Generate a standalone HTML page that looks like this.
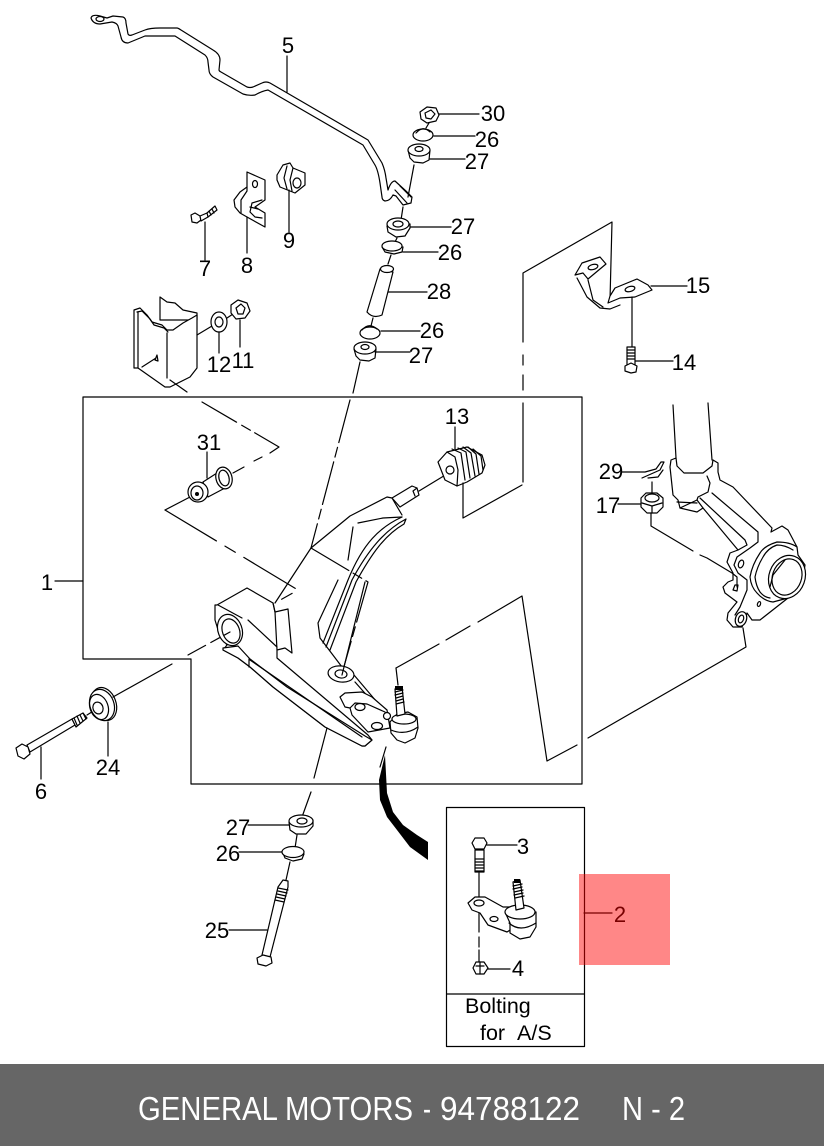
<!DOCTYPE html>
<html><head><meta charset="utf-8">
<style>
html,body{margin:0;padding:0;background:#fff;width:824px;height:1146px;overflow:hidden}
svg{display:block}
.l{fill:none;stroke:#000;stroke-width:1.2;stroke-linejoin:round;stroke-linecap:round}
.f{fill:#fff;stroke:#000;stroke-width:1.2;stroke-linejoin:round}
text{font-family:"Liberation Sans",sans-serif;font-size:22px;fill:#000;text-anchor:middle}
</style></head><body>
<svg width="824" height="1146" viewBox="0 0 824 1146" xmlns="http://www.w3.org/2000/svg">
<rect width="824" height="1146" fill="#fff"/>

<!-- frames -->
<path class="l" d="M83 397H582V784H191V659H83Z"/>
<path class="l" d="M55 581H83"/>
<rect x="446.500" y="807.500" width="138" height="239" class="l"/>
<path class="l" d="M447 994H584"/>

<!-- sway bar -->
<path class="f" d="M113 16L123 17Q126 18 126 23L128 34Q129 36 132 35L145 30Q150 28 160 28L177 28Q178 28 181 30L213 50Q220 54 220 60L219 70Q219 71 221 72L247 87Q250 88 253 87L262 83Q266 81 270 83L368 140L382 163Q385 170 386 178L388 190Q391 181 395 181L407 192L412 197L411 203L403 205L396 196L393 195Q390 201 385 201Q382 200 382 197L380 183Q378 170 375 165L363 145L268 90Q262 91 255 95Q249 96 243 94L213 77Q209 74 209 70L208 62Q208 58 205 55L175 36L145 36L128 43Q122 43 121 37L118 26Q117 23 112 22L100 24Q93 24 91 18Q92 14 100 16L107 18Z"/>
<ellipse class="l" cx="100" cy="19" rx="4" ry="2.500"/>
<path class="l" d="M287 56V92"/>
<path class="l" d="M395 190L407 203M400 186L411 197"/>

<!-- stabiliser link stack -->
<path class="l" d="M414 165L408 197M403 207L401 220M397 238L395 242M391 255L388 264M373 318L371 326M360 362L353 393"/>
<path class="f" d="M420 112L427 107L436 108L439 115L436 121L427 123L421 119Z"/>
<path class="l" d="M425 113L431 110L435 114L431 119L426 118ZM439 114H479"/>
<path class="l" d="M429 123L426 128"/>
<ellipse class="f" cx="423" cy="135" rx="10" ry="6"/>
<path class="l" d="M416 133Q423 125 430 132M434 136H475"/>
<path class="f" d="M408 150L410 158L414 162L423 163L429 160L430 150Z"/>
<ellipse class="f" cx="419" cy="150" rx="11" ry="6"/>
<ellipse class="l" cx="419" cy="149" rx="4" ry="2.500"/>
<path class="l" d="M430 159H465"/>
<path class="f" d="M387 226L388 232L396 237L405 236L410 228L410 224Z"/>
<ellipse class="f" cx="398" cy="224" rx="11" ry="6"/>
<ellipse class="l" cx="398" cy="224" rx="5" ry="3" stroke-width="2"/>
<path class="l" d="M410 227H451"/>
<path class="f" d="M382 247L385 252L394 254L402 252L403 247Z"/>
<ellipse class="f" cx="392" cy="246" rx="10" ry="5"/>
<path class="l" d="M403 252H438"/>
<path class="f" d="M380 269L367 312Q373 319 382 315L393 272Z"/>
<ellipse class="f" cx="387" cy="269" rx="6.500" ry="3.500"/>
<path class="l" d="M388 292H427"/>
<ellipse class="f" cx="370" cy="333" rx="10" ry="6"/>
<path class="l" d="M362 330Q369 322 377 329M381 331H420"/>
<path class="f" d="M354 349L356 356L360 360L369 361L375 358L376 349Z"/>
<ellipse class="f" cx="365" cy="348" rx="11" ry="6"/>
<ellipse class="l" cx="365" cy="347" rx="4" ry="2.500"/>
<path class="l" d="M375 352H410"/>

<!-- 7 8 9 -->
<path class="f" d="M191 215L195 213L200 216L201 220L197 223L192 222Z"/>
<path class="f" d="M200 216L207 213L208 217L201 221Z"/>
<path class="l" d="M207 213L215 206L217 210L208 217M209 211L211 215M212 209L214 213"/>
<path class="l" d="M205 222V260"/>
<path class="f" d="M247 172L265 180V200L255 207L265 213V227L247 217L240 213L235 207L234 200L240 192L247 187Z"/>
<ellipse class="l" cx="255" cy="184" rx="2.500" ry="3.500"/>
<path class="l" d="M247 187V191L241 200L241 213M262 200L252 203L250 212L255 217L262 218M250 207L258 209M247 217V253"/>
<path class="f" d="M277 175L283 165L290 163L293 168L305 173V185L295 193L280 187L277 180Z"/>
<ellipse class="l" cx="297" cy="183" rx="4" ry="5"/>
<path class="l" d="M293 168L290 180L292 191M287 166L284 178L287 189M289 190V232"/>

<!-- big bracket -->
<path class="f" d="M160 297L167 302L175 303L183 310L197 313V320H160Z"/>
<path class="f" d="M134 310L140 308L147 315L152 322L162 325L167 330L173 330L183 323L192 318L197 315V368L190 377L170 387L165 387L138 368H134Z"/>
<path class="l" d="M138 312V368M137 312L142 311L150 319L154 325L164 328L168 332M167 333V378M157 355L158 361L155 360ZM142 367L156 358M197 335L217 323M170 380L187 392"/>
<ellipse class="f" cx="219" cy="322" rx="8" ry="10"/>
<ellipse class="l" cx="219" cy="322" rx="4" ry="5"/>
<path class="l" d="M227 318L233 314"/>
<path class="f" d="M231 305L238 300L247 303L250 311L245 318L236 319L231 313Z"/>
<path class="l" d="M236 308L241 304L245 308L243 314L238 314ZM219 332V353M240 320V347"/>

<!-- upper-left explode lines -->
<path class="l" d="M202 402L279 447L270 453M262 457L254 461M244 467L233 473" stroke-dasharray="40 6 10 5"/>
<path class="l" d="M165 510L298 590L275 603" stroke-dasharray="60 10 12 10"/>
<path class="l" d="M190 497L165 510"/>

<!-- 31 -->
<path class="f" d="M203 482L217 473L230 482L225 488L208 497Z"/>
<ellipse class="f" cx="224" cy="478" rx="8" ry="11" transform="rotate(-15 224 478)"/>
<ellipse class="l" cx="224" cy="478" rx="5" ry="8" transform="rotate(-15 224 478)"/>
<ellipse class="f" cx="198" cy="492" rx="10" ry="10"/>
<ellipse class="l" cx="197" cy="493" rx="6" ry="7"/>
<circle cx="197" cy="494" r="2" fill="#000"/>
<path class="l" d="M207 452V478"/>

<!-- control arm -->
<path class="l" d="M350 400L311 548M311 548L368 582L343 670" stroke-dasharray="44 5 10 5"/>
<path class="f" d="M215 605L217 605L247 588L273 603L275 612L288 609L292 653L285 648L277 650L277 658L368 735L372 740L365 746L362 746L325 727L273 687L250 667L238 658L223 650L227 645L219 633L215 620Z"/>
<path class="l" d="M218 605L242 618M248 620L277 647M273 603L275 612L277 650"/>
<path class="f" d="M223 648L238 646L250 659L287 687L365 736L372 740L365 746L362 746L325 727L273 687L250 667L238 658L223 650Z"/>
<path class="l" d="M250 660L362 737M249 659V667"/>
<ellipse class="f" cx="230" cy="630" rx="12" ry="16" transform="rotate(-20 230 630)"/>
<ellipse class="l" cx="231" cy="631" rx="8.500" ry="12.500" transform="rotate(-20 231 631)"/>
<path class="l" d="M188 655L230 632" stroke-dasharray="20 6 10 5"/>

<path class="l" d="M311 548L350 516L387 497L392 498L402 515M338 580L318 623L320 638L342 667M353 527L348 560M358 523L383 518L402 517"/>
<path class="l" d="M311 548L275 603"/>
<path class="l" d="M402 517C380 527 363 543 348 580L323 643M406 519C385 530 368 550 352 580L326 647M404 524C385 535 372 553 356 582L330 650M406 519L404 524M354 675L382 708M355 682L378 708"/>
<path class="f" d="M392 498L412 486L417 488L419 495L400 507Z"/>
<path class="l" d="M417 488L413 491L415 496"/>
<path class="l" d="M419 491L447 474"/>

<ellipse class="f" cx="341" cy="674" rx="13" ry="8" transform="rotate(8 341 674)"/>
<ellipse class="l" cx="341" cy="674" rx="6" ry="4" transform="rotate(8 341 674)"/>
<path class="l" d="M365 582L342 675"/>

<path class="f" d="M340 697L345 693L362 692L372 697L387 710L390 728L368 732L352 715L350 708L345 707Z"/>
<path class="l" d="M350 708L355 703L367 704L385 712"/>
<ellipse class="f" cx="360" cy="707" rx="5" ry="3.500"/>
<ellipse class="f" cx="377" cy="726" rx="5.500" ry="3.500"/>
<circle class="f" cx="387" cy="716" r="3.500"/>
<path class="f" d="M390 722L391 733L397 740L405 743L415 738L418 728L417 717L408 712L397 714Z"/>
<path class="l" d="M391 730Q405 736 418 727"/>
<ellipse class="f" cx="404" cy="719" rx="12" ry="5"/>
<path class="f" d="M395 689L402 687L405 714L397 716Z"/>
<path class="l" d="M395 692L403 690M395 695L403 693M396 698L403 696M396 701L403 699M396 704L404 702"/>
<rect x="395" y="686" width="8" height="4" fill="#000"/>

<!-- 13 -->
<path class="f" d="M438 462L447 452L467 447L482 455L485 465L482 473L467 482L457 486L445 480Z"/>
<path class="l" d="M447 452L455 457L458 470L457 486M452 449L461 453L465 480M458 448L466 452L470 478M463 447L471 453L475 476M468 447L476 454L479 474M473 449L481 456L483 470"/>
<circle class="f" cx="450" cy="470" r="4"/>
<path class="l" d="M455 427V449M463 483V518L522 485"/>
<path class="l" d="M523 482V403M523 390V375M523 365V355M523 342V273L612 222L610 300"/>

<!-- 15 14 -->
<path class="l" d="M577 278L587 297L600 308L610 309L620 305M588 280L593 300L603 307"/>
<path class="f" d="M575 275L582 263L600 257L606 264L588 279L583 273Z"/>
<ellipse class="l" cx="593" cy="267" rx="5" ry="2.500" transform="rotate(-15 593 267)"/>
<path class="f" d="M615 288L637 279L648 285L652 290L635 297L620 298L608 303L610 296Z"/>
<ellipse class="l" cx="630" cy="289" rx="5" ry="2.500" transform="rotate(-15 630 289)"/>
<path class="l" d="M651 286H687M632 297V347M635 361H673"/>
<path class="f" d="M627 347H635V366H627Z"/>
<path class="l" d="M627 350H635M627 353H635M627 356H635M627 359H635"/>
<path class="f" d="M625 366L631 363L637 366L636 372L631 373L625 371Z"/>

<!-- knuckle -->
<path class="l" d="M673 405L676 458M708 403L712 460"/>
<path class="f" d="M670 467L671 460L676 458L677 466L684 473L703 473L712 466L713 460L718 463L718 472L720 480L733 487L772 528L771 532L782 526L788 530L797 547L798 555L805 565L802 583L788 598L760 620L752 620L747 613L745 620L742 627L733 627L727 620L728 613L737 602L725 593L723 587L728 582L733 580L733 573L727 562L730 553L738 550L703 508L697 500L680 508L678 500L673 495Z"/>
<path class="l" d="M697 512L680 508M677 502L697 503M707 476L710 483L708 492L698 497L697 500M700 498L745 540L747 545L738 550M712 493L758 532L758 542L750 548L737 557L734 565L738 573L747 580L747 590L740 607L735 615M697 512L703 508"/>
<path class="l" d="M797 547Q790 542 777 542Q764 546 760 553Q752 565 750 577Q751 587 757 593Q764 601 773 602L788 598M793 550Q785 545 777 545Q768 548 763 557Q757 567 755 577Q756 586 760 592Q764 597 770 598"/>
<ellipse class="f" cx="787" cy="577" rx="18" ry="22" transform="rotate(20 787 577)"/>
<ellipse class="l" cx="787" cy="577" rx="14.500" ry="18.500" transform="rotate(20 787 577)"/>
<path class="l" d="M785 560L773 575L770 587"/>
<ellipse class="l" cx="741" cy="564" rx="2.500" ry="4" transform="rotate(20 741 564)"/>
<ellipse class="f" cx="741" cy="619" rx="5.500" ry="7.500" transform="rotate(20 741 619)"/>
<ellipse class="l" cx="741" cy="619" rx="2.500" ry="4" transform="rotate(20 741 619)"/>
<ellipse class="l" cx="759" cy="604" rx="1.500" ry="2.500" transform="rotate(20 759 604)"/>
<path class="l" d="M735 585L733 590L737 591L738 585Z"/>

<!-- 29 17 -->
<path class="l" d="M642 478L660 470L664 462L661 462L656 469L645 472M648 478L658 477L663 470M622 472H645M652 482V495"/>
<path class="f" d="M641 498L646 493L657 493L663 498L663 507L657 513L647 513L641 507Z"/>
<ellipse class="l" cx="652" cy="498" rx="7" ry="4"/>
<path class="l" d="M642 503L652 506L662 503M652 506V513M618 504H641"/>
<path class="l" d="M651 513V526L693 551M700 555L707 558L732 573L737 577V587"/>

<!-- ball joint long dashes -->
<path class="l" d="M396 668L398 685"/>
<path class="l" d="M396 668L439 644M446 640L470 626M478 622L522 596L547 761L577 745M588 738L746 647L743 628"/>
<path class="l" d="M386 747L380 767"/>

<!-- curved arrow -->
<path fill="#000" d="M385 755L379 780L380 800L387 817L397 830L410 847L428 860V842L417 835L403 825L393 812L387 793Z"/>

<!-- lower stack -->
<path class="l" d="M327 728L314 778M311 792L302 817M297 835L295 848M290 862L286 880"/>
<path class="f" d="M289 822L290 830L296 834L306 834L313 826L313 820Z"/>
<ellipse class="f" cx="301" cy="821" rx="12" ry="6"/>
<ellipse class="l" cx="302" cy="821" rx="5" ry="3" stroke-width="2"/>
<path class="l" d="M248 825H289M239 852H283M229 930H267"/>
<path class="f" d="M283 853L285 858L293 861L302 859L304 854Z"/>
<ellipse class="f" cx="293" cy="852" rx="11" ry="5.500"/>
<path class="f" d="M278 887L283 880L288 881L288 887L270 957L262 955Z"/>
<path class="l" d="M278 888L288 890M278 891L287 893M277 894L286 896M276 897L285 899M275 900L284 902"/>
<path class="f" d="M257 958L263 955L271 957L272 963L266 966L258 964Z"/>

<!-- 6 24 -->
<path class="f" d="M27 745L72 719L75 725L30 752Z"/>
<path class="f" d="M72 719L83 713L87 718L76 727Z"/>
<path class="l" d="M74 718L77 725M77 716L80 723M80 715L83 721M83 713L86 719"/>
<path class="l" d="M87 715L95 710"/>
<path class="f" d="M16 748L22 744L28 747L30 754L24 759L18 756Z"/>
<path class="l" d="M41 747V779"/>
<ellipse class="f" cx="104" cy="704" rx="12" ry="17" transform="rotate(-20 104 704)"/>
<ellipse class="f" cx="102" cy="705" rx="12" ry="16" transform="rotate(-20 102 705)"/>
<ellipse class="l" cx="99" cy="707" rx="9" ry="13" transform="rotate(-20 99 707)"/>
<ellipse class="f" cx="98" cy="708" rx="5" ry="6" transform="rotate(-20 98 708)"/>
<path class="l" d="M108 722V756M113 697L172 664"/>

<!-- inset -->
<path class="f" d="M475 850H484V872H475Z"/>
<path class="l" d="M475 859H484M475 862H484M475 865H484M475 868H484M475 871H484"/>
<path class="f" d="M472 843L475 838L484 838L487 843L484 849L475 849Z"/>
<path class="l" d="M487 845H517M479 873V897"/>
<path class="l" d="M479 913V932M479 937V947M479 950V963"/>
<path class="f" d="M468 903L475 897L485 897L503 907L515 907L518 925L507 932L488 925L480 913L472 910Z"/>
<ellipse class="l" cx="479" cy="903" rx="5" ry="3"/>
<ellipse class="l" cx="494" cy="919" rx="4" ry="2.500"/>
<path class="f" d="M505 912L510 923L510 933L520 939L530 937L536 927L536 912Z"/>
<path class="l" d="M509 923Q520 933 536 923"/>
<ellipse class="f" cx="520" cy="912" rx="15" ry="7"/>
<path class="f" d="M513 882L520 880L524 908L516 910Z"/>
<path class="l" d="M513 886L522 884M513 889L522 887M514 892L523 890M514 895L523 893M515 898L524 896"/>
<rect x="514" y="879" width="6" height="4" fill="#000"/>
<path class="f" d="M473 968L476 962L484 962L488 968L484 974L476 974Z"/>
<path class="l" d="M476 966L484 966M480 962V974M488 969H510"/>

<!-- labels -->
<g transform="translate(0 1)">
<text x="288" y="52">5</text>
<text x="493" y="120">30</text>
<text x="487" y="146">26</text>
<text x="477" y="168">27</text>
<text x="463" y="233">27</text>
<text x="450" y="259">26</text>
<text x="439" y="298">28</text>
<text x="432" y="337">26</text>
<text x="421" y="362">27</text>
<text x="205" y="275">7</text>
<text x="247" y="272">8</text>
<text x="289" y="247">9</text>
<text x="219" y="371">12</text>
<text x="243" y="367">11</text>
<text x="457" y="423">13</text>
<text x="209" y="449">31</text>
<text x="698" y="292">15</text>
<text x="684" y="369">14</text>
<text x="611" y="478">29</text>
<text x="608" y="512">17</text>
<text x="47" y="589">1</text>
<text x="108" y="774">24</text>
<text x="41" y="798">6</text>
<text x="238" y="834">27</text>
<text x="228" y="860">26</text>
<text x="217" y="937">25</text>
<text x="523" y="853">3</text>
<text x="518" y="975">4</text>
<text x="620" y="921">2</text>
</g>
<path class="l" d="M584 913H612"/>
<text x="465" y="1013" style="text-anchor:start;font-size:21.500px">Bolting</text>
<text x="480" y="1040" style="text-anchor:start;font-size:21.500px">for&#160;&#160;A/S</text>

<!-- red highlight -->
<rect x="579" y="874" width="91" height="91" fill="#ff0000" fill-opacity=".47"/>

<!-- footer -->
<rect x="0" y="1064" width="824" height="82" fill="#666666"/>
<text x="138" y="1120" textLength="275" lengthAdjust="spacingAndGlyphs" style="font-size:33px;fill:#fff;text-anchor:start">GENERAL MOTORS</text>
<text x="423" y="1120" textLength="8" lengthAdjust="spacingAndGlyphs" style="font-size:33px;fill:#fff;text-anchor:start">-</text>
<text x="440" y="1120" textLength="140" lengthAdjust="spacingAndGlyphs" style="font-size:33px;fill:#fff;text-anchor:start">94788122</text>
<text x="622" y="1120" textLength="63" lengthAdjust="spacingAndGlyphs" style="font-size:33px;fill:#fff;text-anchor:start">N - 2</text>
</svg>
</body></html>
